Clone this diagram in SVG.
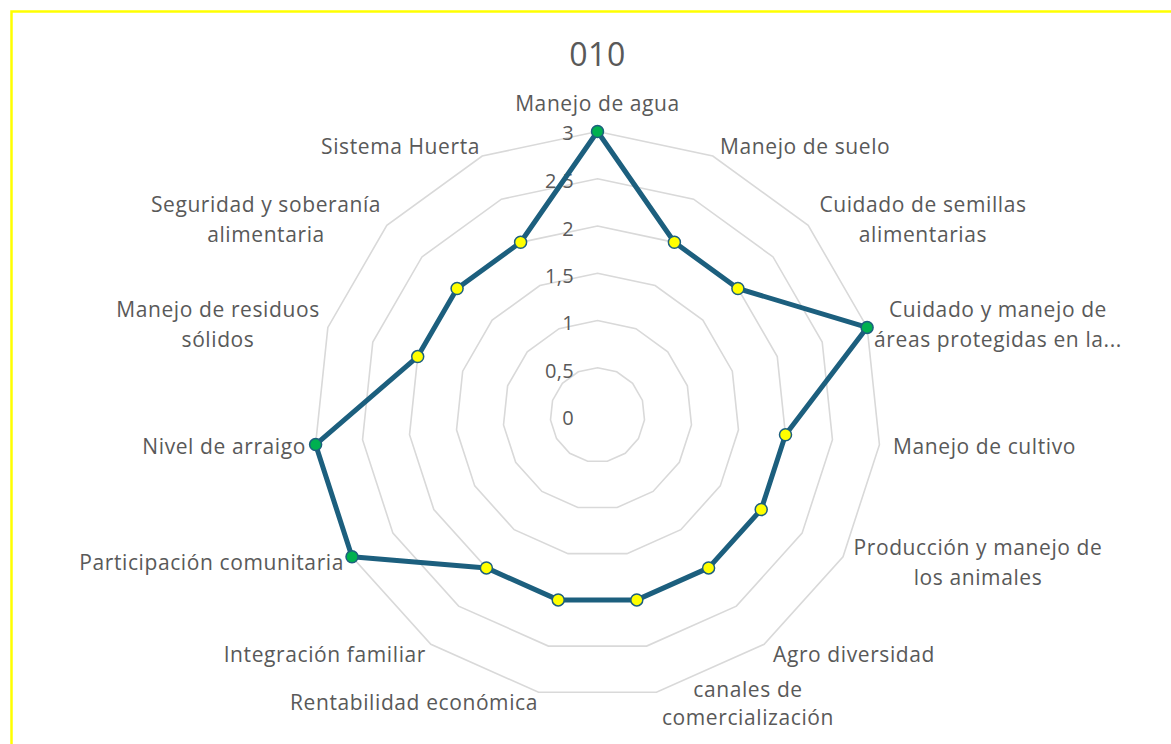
<svg xmlns="http://www.w3.org/2000/svg" xmlns:xlink="http://www.w3.org/1999/xlink" width="1171" height="744" viewBox="0 0 1171 744">
<style>
text{font-family:"Open Sans","Liberation Sans",sans-serif;fill:#595959;font-size:21px;letter-spacing:0.6px}
.title{font-size:32px;letter-spacing:0.5px}
.tick{font-size:20px;text-anchor:end;letter-spacing:0.3px}
.m{text-anchor:middle}
.s{text-anchor:start}
.e{text-anchor:end}
.ring{fill:none;stroke:#d9d9d9;stroke-width:1.6}
.series{fill:none;stroke:#1c5f7e;stroke-width:5;stroke-linejoin:round}
.y{fill:#ffff00;stroke:#1c5f7e;stroke-width:1.5}
.g{fill:#00b050;stroke:#1c5f7e;stroke-width:1.5}
</style>
<defs>
<polygon id="ring" vector-effect="non-scaling-stroke" points="0,-1 .4067,-.9135 .7431,-.6691 .9511,-.309 .9945,.1045 .866,.5 .5878,.809 .2079,.9781 -.2079,.9781 -.5878,.809 -.866,.5 -.9945,.1045 -.9511,-.309 -.7431,-.6691 -.4067,-.9135"/>
</defs>
<rect width="1171" height="744" fill="#ffffff"/>
<path d="M11.5 760 V11.5 H1180" fill="none" stroke="#ffff00" stroke-width="2.5"/>
<text class="title m" x="597.5" y="66">010</text>
<g id="grid">
<use xlink:href="#ring" class="ring" transform="translate(597.5 415) scale(47.25)"/>
<use xlink:href="#ring" class="ring" transform="translate(597.5 415) scale(94.5)"/>
<use xlink:href="#ring" class="ring" transform="translate(597.5 415) scale(141.75)"/>
<use xlink:href="#ring" class="ring" transform="translate(597.5 415) scale(189)"/>
<use xlink:href="#ring" class="ring" transform="translate(597.5 415) scale(236.25)"/>
<use xlink:href="#ring" class="ring" transform="translate(597.5 415) scale(283.5)"/>
</g>
<g id="ticks">
<text class="tick" x="574" y="425">0</text>
<text class="tick" x="574" y="378">0,5</text>
<text class="tick" x="574" y="330">1</text>
<text class="tick" x="574" y="283">1,5</text>
<text class="tick" x="574" y="236">2</text>
<text class="tick" x="574" y="188">2,5</text>
<text class="tick" x="574" y="140">3</text>
</g>
<g id="series">
<polygon class="series" points="597.5,131.5 674.4,242.3 737.9,288.5 867.1,327.4 785.5,434.8 761.2,509.5 708.6,567.9 636.8,599.9 558.2,599.9 486.4,567.9 352,556.8 315.6,444.6 417.7,356.6 457.1,288.5 520.6,242.3"/>
<circle class="g" cx="597.5" cy="131.5" r="6"/>
<circle class="y" cx="674.4" cy="242.3" r="6"/>
<circle class="y" cx="737.9" cy="288.5" r="6"/>
<circle class="g" cx="867.1" cy="327.4" r="6"/>
<circle class="y" cx="785.5" cy="434.8" r="6"/>
<circle class="y" cx="761.2" cy="509.5" r="6"/>
<circle class="y" cx="708.6" cy="567.9" r="6"/>
<circle class="y" cx="636.8" cy="599.9" r="6"/>
<circle class="y" cx="558.2" cy="599.9" r="6"/>
<circle class="y" cx="486.4" cy="567.9" r="6"/>
<circle class="g" cx="352" cy="556.8" r="6"/>
<circle class="g" cx="315.6" cy="444.6" r="6"/>
<circle class="y" cx="417.7" cy="356.6" r="6"/>
<circle class="y" cx="457.1" cy="288.5" r="6"/>
<circle class="y" cx="520.6" cy="242.3" r="6"/>
</g>
<g id="labels">
<text class="m" x="597.5" y="111">Manejo de agua</text>
<text class="s" x="720" y="154">Manejo de suelo</text>
<text class="m" x="923" y="212">Cuidado de semillas</text>
<text class="m" x="923" y="242">alimentarias</text>
<text class="m" x="998" y="317">Cuidado y manejo de</text>
<text class="m" x="998" y="347">áreas protegidas en la...</text>
<text class="s" x="893" y="454">Manejo de cultivo</text>
<text class="m" x="978" y="555">Producción y manejo de</text>
<text class="m" x="978" y="585">los animales</text>
<text class="s" x="773" y="662">Agro diversidad</text>
<text class="m" x="748" y="697">canales de</text>
<text class="m" x="748" y="725">comercialización</text>
<text class="e" x="538" y="710">Rentabilidad económica</text>
<text class="e" x="426" y="662">Integración familiar</text>
<text class="e" x="344" y="570">Participación comunitaria</text>
<text class="e" x="306" y="454">Nivel de arraigo</text>
<text class="m" x="218" y="317">Manejo de residuos</text>
<text class="m" x="218" y="347">sólidos</text>
<text class="m" x="266" y="212">Seguridad y soberanía</text>
<text class="m" x="266" y="242">alimentaria</text>
<text class="e" x="480" y="154">Sistema Huerta</text>
</g>
</svg>
